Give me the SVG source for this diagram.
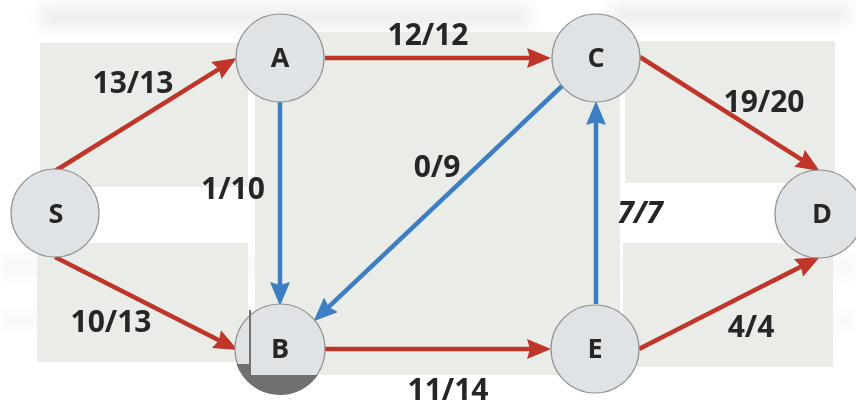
<svg xmlns="http://www.w3.org/2000/svg" width="856" height="408" viewBox="0 0 856 408">
<style>
.panel{fill:#e9ece7}
.node circle{fill:#e0e3e5;stroke:#939393;stroke-width:1.2}
.node text{font-family:"Open Sans","Liberation Sans",sans-serif;font-weight:700;font-size:27px;fill:#262626;text-anchor:middle}
.lbl{font-family:"Open Sans","Liberation Sans",sans-serif;font-weight:700;font-size:30px;fill:#262626;text-anchor:middle}
.red{stroke:#c0352a;stroke-width:4.5;fill:none;marker-end:url(#ar)}
.blue{stroke:#3d7dc2;stroke-width:4.5;fill:none;marker-end:url(#ab)}
</style>
<defs>
<marker id="ar" markerUnits="userSpaceOnUse" markerWidth="26" markerHeight="22" refX="10" refY="10" orient="auto"><path d="M0,0 L24,10 L0,20 L3,10 z" fill="#c0352a"/></marker>
<marker id="ab" markerUnits="userSpaceOnUse" markerWidth="26" markerHeight="22" refX="10" refY="10" orient="auto"><path d="M0,0 L24,10 L0,20 L3,10 z" fill="#3d7dc2"/></marker>
<filter id="bl" x="-20%" y="-100%" width="140%" height="300%"><feGaussianBlur stdDeviation="7"/></filter>
<clipPath id="cb"><circle cx="280" cy="349" r="46"/></clipPath>
</defs>
<rect width="856" height="408" fill="#ffffff"/>
<g id="background" filter="url(#bl)" fill="#eeeeee">
<rect x="40" y="6" width="490" height="22"/>
<rect x="610" y="4" width="240" height="20"/>
<rect x="0" y="258" width="856" height="18" opacity="0.45"/>
<rect x="0" y="312" width="856" height="18" opacity="0.35"/>
</g>
<rect class="panel" x="40" y="43" width="208" height="144"/>
<rect class="panel" x="255" y="32" width="365" height="343"/>
<rect class="panel" x="625" y="41" width="210" height="142"/>
<rect class="panel" x="37" y="243" width="211" height="119"/>
<rect class="panel" x="623" y="243" width="210" height="124"/>
<g id="connectors">
<path id="e-SA" class="red" d="M55,171 L224.8,65.3"/>
<path id="e-AC" class="red" d="M325,58 L537,58"/>
<path id="e-CD" class="red" d="M640,57 L807.9,163.6"/>
<path id="e-SB" class="red" d="M55,257 L225.3,343.6"/>
<path id="e-BE" class="red" d="M325,349 L537,349"/>
<path id="e-ED" class="red" d="M639,349 L807.3,263.4"/>
<path id="e-AB" class="blue" d="M280,102 L280,292"/>
<path id="e-CB" class="blue" d="M562,86 L323.7,311.7"/>
<path id="e-EC" class="blue" d="M596,304 L596,115"/>
</g>
<g id="labels">
<text class="lbl" x="133" y="93">13/13</text>
<text class="lbl" x="428" y="45">12/12</text>
<text class="lbl" x="764" y="112">19/20</text>
<text class="lbl" x="233" y="199">1/10</text>
<text class="lbl" x="437" y="177">0/9</text>
<text class="lbl" x="640" y="223" font-style="italic">7/7</text>
<text class="lbl" x="111" y="332">10/13</text>
<text class="lbl" x="448" y="400">11/14</text>
<text class="lbl" x="751" y="337">4/4</text>
</g>
<g id="node-S" class="node"><circle cx="55" cy="213" r="44"/><text x="56" y="223">S</text></g>
<g id="node-A" class="node"><circle cx="280" cy="58" r="44"/><text x="280" y="67">A</text></g>
<g id="node-C" class="node"><circle cx="596" cy="58" r="44"/><text x="596" y="67">C</text></g>
<g id="node-D" class="node"><circle cx="819" cy="214" r="44"/><text x="822" y="223">D</text></g>
<g id="node-B" class="node"><circle cx="280" cy="349" r="45"/><text x="280" y="358">B</text>
<g clip-path="url(#cb)" fill="#707070"><rect x="230" y="375" width="100" height="30"/><rect x="230" y="364" width="21" height="12"/></g>
<rect x="249" y="310" width="2" height="55" fill="#707070"/></g>
<g id="node-E" class="node"><circle cx="595" cy="349" r="44"/><text x="595" y="358">E</text></g>
</svg>
